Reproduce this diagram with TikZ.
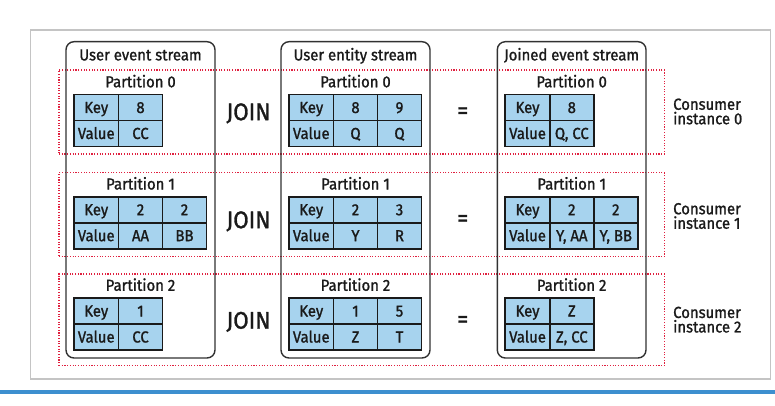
\documentclass[tikz,border=0pt]{standalone}
\usepackage{fontspec}
\setmainfont{Fira Sans}[FakeStretch=0.93, FakeBold=1.2]
\definecolor{tblue}{HTML}{A7D3EE}
\definecolor{dred}{HTML}{E0203F}
\definecolor{bline}{HTML}{3D8FCF}
\definecolor{framegray}{HTML}{C4C4C4}
\definecolor{ink}{HTML}{1A1A1A}
\newcommand\stdfont{\fontsize{16}{16}\selectfont}
\newcommand\joinfont{\fontsize{24}{24}\selectfont}
\newcommand\ciffont{\fontsize{16}{14.5}\selectfont}
\newcommand\kvtable[4]{%
  \node[keycell] (#1k0) at ({#2},{#3}) {Key};
  \node[keycell] (#1v0) at ({#2},{#3+26}) {Value};
  \foreach \kk/\vv [count=\i] in {#4}{%
    \node[valcell] (#1k\i) at ({#2+44.5+44*(\i-1)},{#3}) {\kk};
    \node[valcell] (#1v\i) at ({#2+44.5+44*(\i-1)},{#3+26}) {\vv};
  }%
}
\begin{document}
\begin{tikzpicture}[x=1pt,y=-1pt,
  every node/.style={text=ink},
  cell/.style={draw=ink, line width=1.7pt, fill=tblue, minimum height=26pt,
    inner sep=0pt, outer sep=0pt, anchor=north west, text height=11pt,
    text depth=0pt, font=\stdfont},
  keycell/.style={cell, minimum width=44.5pt},
  valcell/.style={cell, minimum width=44pt},
  stream/.style={draw=ink!90, line width=1.4pt, rounded corners=8pt,
    minimum width=149pt, minimum height=316.3pt, inner sep=0pt, outer sep=0pt},
  lbl/.style={font=\stdfont, inner sep=0pt, text height=11pt, text depth=0pt},
  joinlbl/.style={font=\joinfont, inner sep=0pt, text height=16.3pt, text depth=0pt},
  eqlbl/.style={font=\joinfont, inner sep=0pt},
  consumer/.style={draw=dred, line width=1.2pt, dash pattern=on 1.1pt off 1.6pt,
    inner sep=0pt, outer sep=0pt},
  cilbl/.style={font=\ciffont, align=left, anchor=west, inner sep=0pt}
]
\useasboundingbox (0,0) rectangle (775,406);
% outer frame and bottom rule
\node[draw=framegray, line width=1.2pt, minimum width=740pt, minimum height=349pt,
  inner sep=0pt] (frame) at (400.5,204.5) {};
\coordinate (ruleL) at (0,392);
\coordinate (ruleR) at (775,392);
\draw[bline, line width=4pt] (ruleL) -- (ruleR);
% consumer instance groups
\node[consumer, minimum width=605.3pt, minimum height=84pt] (c0) at (361.65,112) {};
\node[consumer, minimum width=605.3pt, minimum height=84pt] (c1) at (361.65,214.7) {};
\node[consumer, minimum width=605.3pt, minimum height=91.7pt] (c2) at (361.65,319.85) {};
% streams
\node[stream] (sE) at (140.5,199.85) {};
\node[stream] (sN) at (355.5,199.85) {};
\node[stream, minimum width=148.7pt] (sJ) at (571.65,199.85) {};
\node[lbl] (tE) at (140.5,54.9) {User event stream};
\node[lbl] (tN) at (355.5,54.9) {User entity stream};
\node[lbl] (tJ) at (571.65,54.9) {Joined event stream};
% partition labels
\foreach \s/\x in {E/140.5, N/355.5, J/571.65}{
  \node[lbl] (p0\s) at (\x,81.8) {Partition 0};
  \node[lbl] (p1\s) at (\x,184) {Partition 1};
  \node[lbl] (p2\s) at (\x,285.3) {Partition 2};
}
% tables
\kvtable{e0}{74}{94.5}{8/CC}
\kvtable{e1}{74}{196.7}{2/AA,2/BB}
\kvtable{e2}{74}{298}{1/CC}
\kvtable{n0}{289}{94.5}{8/Q,9/Q}
\kvtable{n1}{289}{196.7}{2/Y,3/R}
\kvtable{n2}{289}{298}{1/Z,5/T}
\kvtable{j0}{505.3}{94.5}{8/{Q, CC}}
\kvtable{j1}{505.3}{196.7}{2/{Y, AA},2/{Y, BB}}
\kvtable{j2}{505.3}{298}{Z/{Z, CC}}
% operators
\node[joinlbl] (join0) at (248.5,112) {JOIN};
\node[joinlbl] (join1) at (248.5,220) {JOIN};
\node[joinlbl] (join2) at (248.5,320.5) {JOIN};
\node[eqlbl] (eq0) at (462.7,113) {=};
\node[eqlbl] (eq1) at (462.7,220.7) {=};
\node[eqlbl] (eq2) at (462.7,321.7) {=};
% consumer labels
\node[cilbl] (ci0) at (673,111.5) {Consumer\\instance 0};
\node[cilbl] (ci1) at (673,216) {Consumer\\instance 1};
\node[cilbl] (ci2) at (673,319.7) {Consumer\\instance 2};
\end{tikzpicture}
\end{document}
